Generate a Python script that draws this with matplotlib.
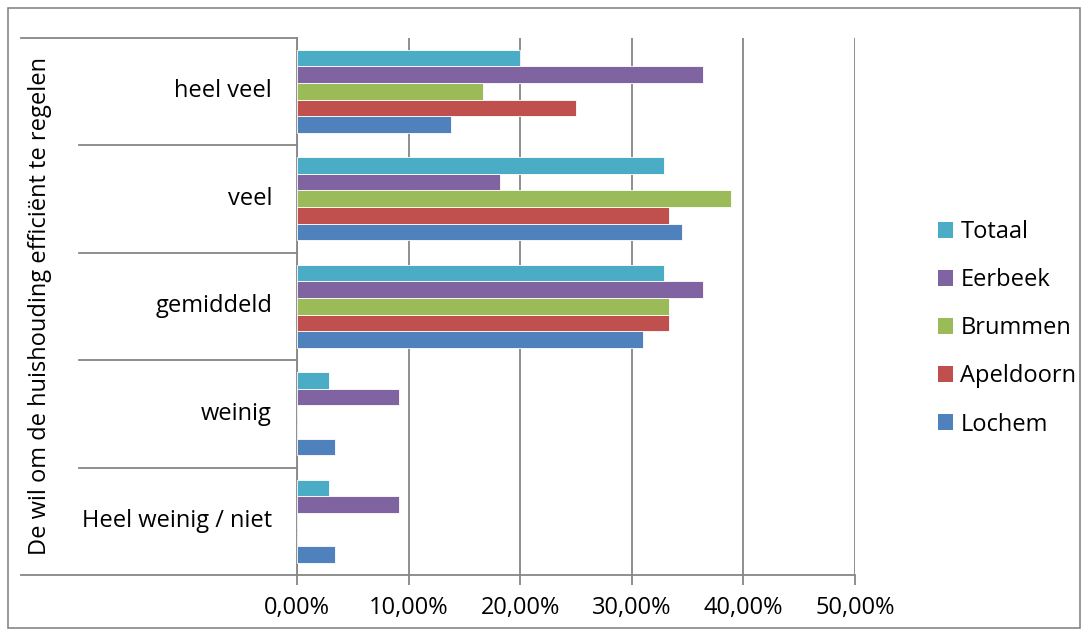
import matplotlib
matplotlib.use('Agg')
import matplotlib.pyplot as plt
from matplotlib.lines import Line2D
from matplotlib.patches import Rectangle, Patch
from matplotlib.transforms import blended_transform_factory
from matplotlib.ticker import FuncFormatter

plt.rcParams['font.family'] = ['Open Sans', 'DejaVu Sans']

# answer categories, bottom to top
categories = ['Heel weinig / niet', 'weinig', 'gemiddeld', 'veel', 'heel veel']
axis_title = 'De wil om de huishouding efficiënt te regelen'

# share per municipality (%)
lochem = [3.4, 3.4, 31.0, 34.5, 13.8]
apeldoorn = [0.0, 0.0, 33.3, 33.3, 25.0]
brummen = [0.0, 0.0, 33.3, 38.9, 16.7]
eerbeek = [9.1, 9.1, 36.4, 18.2, 36.4]
totaal = [2.9, 2.9, 32.9, 32.9, 20.0]

series = [('Lochem', lochem, '#4F81BD'),
          ('Apeldoorn', apeldoorn, '#C0504D'),
          ('Brummen', brummen, '#9BBB59'),
          ('Eerbeek', eerbeek, '#8064A2'),
          ('Totaal', totaal, '#4BACC6')]

W, H = 1088, 636
fig = plt.figure(figsize=(W / 100, H / 100), dpi=100)
grey = '#868686'
fs = 17

# plot area in pixels
x0, x1, ytop, ybot = 297, 855, 37.5, 575
ax = fig.add_axes([x0 / W, 1 - ybot / H, (x1 - x0) / W, (ybot - ytop) / H])

bh = 0.768 / 5
for i, (name, vals, col) in enumerate(series):
    pos = [k + (i - 2) * bh for k in range(len(categories))]
    ax.barh(pos, vals, height=bh, color=col, edgecolor='white', linewidth=0.6, zorder=3)

ax.set_xlim(0, 50)
ax.set_ylim(-0.5, len(categories) - 0.5)
ax.set_xticks(range(0, 51, 10))
ax.xaxis.set_major_formatter(FuncFormatter(lambda v, p: f'{v:.2f}%'.replace('.', ',')))
ax.tick_params(axis='x', length=7, width=1.3, color=grey, labelsize=fs, pad=8)
ax.set_yticks([])
ax.grid(axis='x', color=grey, linewidth=1.3, zorder=0)
for s in ['top', 'right']:
    ax.spines[s].set_visible(False)
for s in ['left', 'bottom']:
    ax.spines[s].set_color(grey)
    ax.spines[s].set_linewidth(1.3)

# category dividers and labels on the left
tr = blended_transform_factory(fig.transFigure, ax.transData)
n = len(categories)
for k in range(n + 1):
    yv = k - 0.5
    left = 21 if k in (0, n) else 79
    fig.add_artist(Line2D([left / W, x0 / W], [yv, yv], transform=tr, color=grey, lw=1.3))
for k, lab in enumerate(categories):
    fig.text(272 / W, k, lab, transform=tr, ha='right', va='center', fontsize=fs)

fig.text(40 / W, 1 - (ytop + ybot) / 2 / H, axis_title, rotation=90,
         ha='center', va='center', fontsize=fs)

# outer chart border
fig.add_artist(Rectangle((8 / W, 8 / H), 1072 / W, 620 / H, transform=fig.transFigure,
                         fill=False, edgecolor=grey, lw=1.2))

handles = [Patch(facecolor=c, edgecolor='none', label=nm) for nm, _, c in reversed(series)]
fig.legend(handles=handles, loc='upper left', bbox_to_anchor=(917 / W, 1 - 199 / H),
           frameon=False, fontsize=fs, handlelength=0.64, handleheight=0.64,
           handletextpad=0.3, labelspacing=1.02)

fig.savefig('out.png', dpi=100)
